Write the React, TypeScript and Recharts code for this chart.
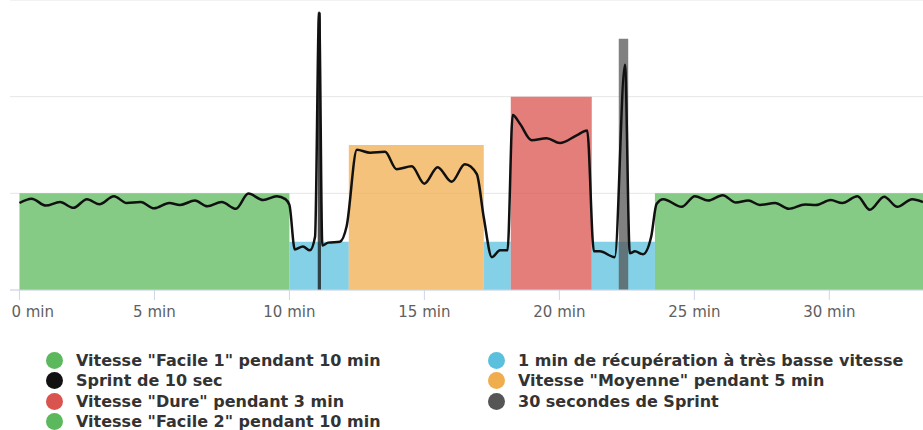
import { ComposedChart, Line, XAxis, YAxis, ReferenceArea, CartesianGrid } from "recharts";

// Workout blocks (minutes, speed level)
const blockNames = [
  'Vitesse "Facile 1" pendant 10 min',
  "1 min de récupération à très basse vitesse",
  "Sprint de 10 sec",
  'Vitesse "Moyenne" pendant 5 min',
  'Vitesse "Dure" pendant 3 min',
  "30 secondes de Sprint",
  'Vitesse "Facile 2" pendant 10 min',
];
const blockColors = ["#5cb85c", "#5bc0de", "#111111", "#f0ad4e", "#d9534f", "#555555", "#5cb85c"];

// segments drawn on the chart: [start, end, level, block index]
const segStart = [0, 10, 12.2, 17.2, 18.2, 21.2, 23.54, 11.05, 22.2];
const segEnd = [10, 12.2, 17.2, 18.2, 21.2, 23.54, 33.6, 11.17, 22.55];
const segLevel = [1, 0.5, 1.5, 0.5, 2, 0.5, 1, 2.87, 2.6];
const segBlock = [0, 1, 3, 1, 4, 1, 6, 2, 5];

// recorded speed trace
const traceTime = [
  0, 0.45, 0.98, 1.5, 2.0, 2.5, 2.96, 3.5, 3.97, 4.49, 4.99, 5.55, 5.95, 6.5, 6.96, 7.49, 8.02, 8.48, 9.03, 9.53,
  9.85, 10.0, 10.2, 10.5, 10.76, 10.95, 11.1, 11.22, 11.44, 11.87, 12.12, 12.5, 12.99, 13.54, 13.97, 14.53, 15.0,
  15.49, 16.01, 16.5, 16.94, 17.2, 17.5, 17.8, 18.08, 18.27, 18.54, 18.97, 19.53, 20.02, 20.64, 21.03, 21.28, 21.5,
  22.05, 22.43, 22.61, 22.8, 23.1, 23.4, 23.6, 23.85, 24.53, 25.02, 25.51, 26.05, 26.54, 27.0, 27.43, 27.99, 28.5,
  29.1, 29.5, 30.05, 30.48, 31.04, 31.5, 32.03, 32.52, 33.07, 33.47,
];
const traceSpeed = [
  0.9, 0.945, 0.873, 0.91, 0.85, 0.94, 0.887, 0.97, 0.9, 0.91, 0.845, 0.9, 0.88, 0.925, 0.866, 0.91, 0.84, 0.997, 0.93,
  0.97, 0.94, 0.88, 0.42, 0.45, 0.41, 0.55, 2.87, 0.46, 0.49, 0.5, 0.66, 1.45, 1.42, 1.43, 1.25, 1.28, 1.1, 1.27, 1.12,
  1.3, 1.2, 0.75, 0.34, 0.41, 0.41, 1.81, 1.72, 1.55, 1.57, 1.52, 1.6, 1.65, 0.4, 0.4, 0.34, 2.33, 0.38, 0.4, 0.37, 0.55,
  0.89, 0.94, 0.86, 0.97, 0.925, 0.98, 0.905, 0.925, 0.88, 0.9, 0.84, 0.885, 0.88, 0.93, 0.9, 0.97, 0.83, 0.965, 0.86,
  0.94, 0.91,
];

const xTicks = [0, 5, 10, 15, 20, 25, 30];
const gridLevels = [1, 2];

const data = traceTime.map((t, i) => ({ t, v: traceSpeed[i] }));

function MinTick(props: any) {
  const { x, y, payload } = props;
  const first = payload.value === 0;
  return (
    <text
      x={first ? x - 8 : x}
      y={y + 15}
      textAnchor={first ? "start" : "middle"}
      fill="#606060"
      fontSize={15}
      fontFamily="DejaVu Sans, sans-serif"
    >
      {payload.value} min
    </text>
  );
}

// legend laid out in two columns, row by row
const legendLeft = [0, 2, 4, 6];
const legendRight = [1, 3, 5];

function LegendItem({ idx, x, y }: { idx: number; x: number; y: number }) {
  return (
    <div style={{ position: "absolute", left: x, top: y, height: 20, display: "flex", alignItems: "center", whiteSpace: "nowrap" }}>
      <span
        style={{ width: 17, height: 17, borderRadius: "50%", background: blockColors[idx], display: "inline-block", marginRight: 13 }}
      />
      <span style={{ fontFamily: "DejaVu Sans, sans-serif", fontWeight: "bold", fontSize: 16, color: "#333" }}>
        {blockNames[idx]}
      </span>
    </div>
  );
}

export default function App() {
  return (
    <div style={{ position: "absolute", left: 0, top: 0, width: 923, height: 430, background: "#fff", overflow: "hidden" }}>
      <ComposedChart width={923} height={320} data={data} margin={{ top: 0, right: 0, left: 10, bottom: 0 }}>
        <CartesianGrid vertical={false} stroke="#e6e6e6" />
        <XAxis
          dataKey="t"
          type="number"
          domain={[-0.35, 33.47]}
          allowDataOverflow
          ticks={xTicks}
          interval={0}
          height={30}
          axisLine={{ stroke: "#ccd6eb" }}
          tickLine={{ stroke: "#ccd6eb" }}
          tickSize={10}
          tick={<MinTick />}
        />
        <YAxis hide domain={[0, 3]} ticks={gridLevels} allowDataOverflow />
        {segStart.map((s, i) => (
          <ReferenceArea
            key={i}
            x1={s}
            x2={segEnd[i]}
            y1={0}
            y2={segLevel[i]}
            fill={blockColors[segBlock[i]]}
            fillOpacity={0.75}
            stroke="none"
            ifOverflow="hidden"
          />
        ))}
        <Line
          dataKey="v"
          type="monotone"
          stroke="#111"
          strokeWidth={2.5}
          dot={false}
          activeDot={false}
          isAnimationActive={false}
        />
      </ComposedChart>
      {legendLeft.map((idx, r) => (
        <LegendItem key={idx} idx={idx} x={46} y={350 + r * 20.5} />
      ))}
      {legendRight.map((idx, r) => (
        <LegendItem key={idx} idx={idx} x={488} y={350 + r * 20.5} />
      ))}
    </div>
  );
}
